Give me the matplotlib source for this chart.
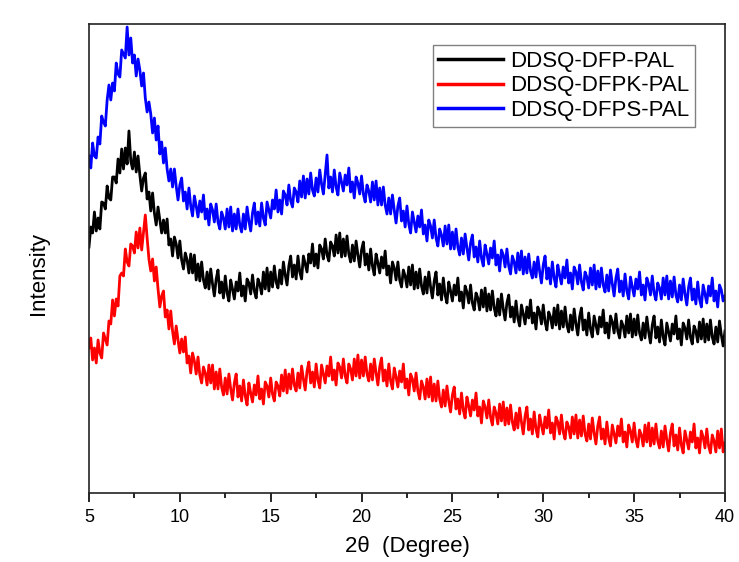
import numpy as np
import matplotlib
matplotlib.use("Agg")
import matplotlib.pyplot as plt
from matplotlib.ticker import MultipleLocator

# 2-theta scan grid (degrees), 0.1 deg step, 5 -> 40
two_theta = np.linspace(5, 40, 351)

# intensities (a.u.), one row per degree
ddsq_dfp_pal = [
    246, 266, 260, 281, 262, 275, 264, 291, 290, 284,
    307, 295, 293, 316, 316, 310, 334, 320, 344, 324,
    345, 329, 362, 332, 324, 341, 321, 337, 318, 302,
    315, 320, 294, 301, 282, 300, 280, 268, 286, 273,
    260, 273, 260, 274, 248, 254, 237, 256, 249, 235,
    252, 233, 224, 240, 233, 220, 239, 220, 238, 213,
    229, 212, 231, 213, 205, 221, 204, 224, 209, 197,
    214, 223, 200, 211, 195, 217, 200, 192, 213, 204,
    194, 211, 202, 220, 197, 207, 192, 214, 210, 199,
    218, 202, 195, 214, 209, 199, 221, 204, 225, 202,
    221, 206, 227, 211, 205, 223, 209, 231, 218, 208,
    227, 237, 216, 228, 214, 237, 221, 214, 237, 229,
    221, 239, 230, 249, 227, 239, 225, 248, 244, 234,
    254, 238, 232, 251, 247, 237, 258, 240, 260, 236,
    254, 237, 257, 239, 231, 248, 232, 252, 238, 226,
    243, 251, 228, 239, 223, 244, 227, 218, 239, 230,
    220, 236, 225, 242, 218, 227, 210, 231, 225, 213,
    231, 213, 206, 223, 217, 206, 226, 208, 228, 204,
    221, 205, 224, 207, 199, 216, 200, 221, 206, 195,
    212, 221, 198, 209, 193, 215, 198, 190, 211, 202,
    192, 208, 198, 215, 192, 201, 185, 207, 201, 190,
    208, 190, 183, 200, 195, 183, 203, 186, 205, 182,
    199, 183, 202, 185, 177, 194, 178, 199, 184, 173,
    190, 198, 176, 186, 171, 192, 175, 167, 188, 179,
    169, 186, 175, 193, 170, 180, 164, 186, 181, 169,
    188, 171, 163, 181, 176, 165, 185, 168, 188, 164,
    182, 166, 186, 168, 161, 178, 163, 184, 169, 158,
    176, 185, 163, 173, 158, 180, 164, 156, 177, 168,
    159, 176, 166, 183, 160, 170, 155, 177, 171, 160,
    179, 162, 155, 172, 167, 156, 177, 160, 179, 156,
    174, 158, 178, 160, 153, 170, 155, 176, 161, 150,
    168, 177, 155, 166, 151, 173, 156, 148, 170, 161,
    152, 169, 159, 177, 154, 164, 148, 170, 165, 154,
    173, 156, 149, 167, 162, 151, 171, 154, 174, 151,
    169, 153, 173, 156, 149, 166, 151, 172, 158, 147,
    162,
]

ddsq_dfpk_pal = [
    145, 155, 133, 145, 130, 153, 140, 135, 160, 154,
    148, 172, 169, 193, 177, 194, 187, 217, 220, 217,
    244, 231, 227, 249, 247, 240, 261, 245, 265, 243,
    261, 278, 255, 234, 222, 234, 212, 226, 204, 186,
    197, 202, 176, 183, 164, 182, 162, 149, 167, 153,
    140, 154, 141, 156, 130, 137, 120, 140, 132, 119,
    136, 118, 110, 126, 120, 108, 128, 110, 128, 104,
    121, 104, 124, 106, 98, 115, 99, 119, 104, 93,
    110, 119, 96, 107, 92, 113, 97, 88, 110, 100,
    91, 108, 98, 117, 94, 104, 89, 111, 107, 96,
    115, 99, 92, 111, 107, 97, 118, 102, 123, 100,
    119, 104, 124, 108, 102, 120, 105, 127, 114, 103,
    122, 131, 110, 121, 106, 129, 113, 105, 128, 119,
    110, 127, 117, 136, 113, 123, 108, 130, 126, 115,
    134, 117, 110, 129, 124, 113, 134, 117, 138, 115,
    133, 117, 136, 119, 112, 129, 113, 134, 120, 108,
    126, 135, 112, 123, 107, 129, 112, 104, 125, 116,
    106, 122, 111, 129, 105, 114, 98, 119, 114, 102,
    120, 102, 94, 112, 106, 94, 114, 96, 116, 92,
    109, 92, 112, 94, 86, 103, 87, 107, 92, 81,
    98, 106, 84, 94, 79, 100, 83, 75, 96, 87,
    77, 93, 83, 100, 77, 86, 70, 92, 86, 75,
    93, 76, 68, 86, 80, 69, 89, 72, 91, 68,
    85, 69, 88, 71, 63, 80, 65, 85, 71, 59,
    77, 86, 63, 74, 59, 81, 64, 56, 78, 68,
    59, 76, 65, 83, 60, 70, 54, 76, 71, 59,
    78, 61, 54, 71, 66, 55, 76, 59, 78, 55,
    73, 57, 77, 59, 52, 69, 54, 75, 60, 49,
    67, 76, 54, 64, 49, 71, 55, 47, 68, 59,
    50, 67, 57, 74, 51, 61, 46, 68, 62, 51,
    70, 53, 46, 63, 58, 47, 68, 51, 70, 47,
    65, 49, 69, 52, 45, 62, 46, 67, 53, 42,
    60, 69, 47, 58, 43, 65, 48, 40, 62, 53,
    44, 61, 51, 69, 45, 55, 40, 62, 56, 45,
    64, 47, 40, 58, 52, 41, 62, 45, 64, 41,
    50,
]

ddsq_dfps_pal = [
    337, 325, 350, 337, 335, 356, 349, 377, 371, 367,
    393, 408, 393, 410, 402, 430, 419, 416, 443, 439,
    435, 466, 438, 455, 430, 438, 417, 434, 423, 407,
    420, 395, 381, 391, 379, 360, 375, 353, 367, 339,
    351, 330, 345, 324, 312, 324, 306, 324, 307, 293,
    308, 315, 292, 301, 284, 305, 287, 277, 297, 287,
    276, 292, 281, 298, 274, 284, 268, 289, 283, 271,
    289, 271, 264, 281, 275, 264, 284, 266, 286, 262,
    279, 264, 284, 268, 261, 279, 264, 286, 272, 262,
    280, 290, 269, 281, 267, 290, 275, 268, 291, 283,
    275, 293, 284, 303, 281, 293, 279, 302, 298, 288,
    308, 292, 286, 305, 301, 291, 312, 296, 317, 295,
    314, 299, 320, 303, 297, 315, 301, 323, 309, 299,
    318, 338, 305, 316, 301, 323, 306, 298, 320, 311,
    302, 318, 308, 325, 301, 311, 295, 316, 310, 299,
    317, 299, 291, 308, 302, 291, 311, 293, 312, 288,
    305, 288, 306, 288, 279, 295, 279, 298, 283, 270,
    287, 295, 272, 282, 266, 287, 269, 260, 281, 271,
    261, 277, 266, 283, 259, 268, 252, 273, 267, 255,
    273, 255, 247, 264, 258, 247, 267, 249, 268, 244,
    261, 244, 264, 246, 238, 255, 239, 259, 245, 233,
    250, 258, 236, 246, 231, 252, 235, 227, 248, 239,
    229, 245, 235, 252, 228, 238, 222, 243, 238, 226,
    244, 227, 219, 237, 231, 220, 240, 223, 242, 219,
    236, 220, 239, 222, 215, 231, 216, 236, 222, 210,
    228, 237, 214, 225, 209, 231, 215, 206, 228, 218,
    209, 226, 215, 233, 210, 220, 204, 226, 221, 209,
    228, 211, 203, 221, 216, 205, 225, 208, 228, 204,
    222, 206, 225, 208, 201, 218, 202, 223, 209, 197,
    215, 224, 201, 212, 197, 219, 202, 194, 216, 206,
    197, 214, 204, 221, 198, 208, 193, 215, 209, 198,
    217, 200, 193, 210, 205, 194, 215, 198, 217, 194,
    212, 196, 216, 198, 191, 208, 193, 214, 199, 188,
    206, 215, 193, 204, 189, 211, 194, 186, 208, 199,
    190, 207, 197, 215, 192, 202, 186, 208, 203, 192,
    197,
]

plt.rcParams['font.family'] = ['Liberation Sans', 'DejaVu Sans']

fig = plt.figure(figsize=(7.39, 5.62), dpi=100)
ax = fig.add_axes([0.1204, 0.1228, 0.8606, 0.8345])

ax.plot(two_theta, ddsq_dfp_pal, color='black', lw=2.0, label='DDSQ-DFP-PAL')
ax.plot(two_theta, ddsq_dfpk_pal, color='red', lw=2.0, label='DDSQ-DFPK-PAL')
ax.plot(two_theta, ddsq_dfps_pal, color='blue', lw=2.0, label='DDSQ-DFPS-PAL')

ax.set_xlim(5, 40)
ax.set_ylim(0, 469)
ax.xaxis.set_major_locator(MultipleLocator(5))
ax.xaxis.set_minor_locator(MultipleLocator(2.5))
ax.tick_params(axis='x', which='major', direction='out', length=6.5, width=1.2,
               labelsize=13, pad=5)
ax.tick_params(axis='x', which='minor', direction='out', length=3.3, width=1.2)
ax.set_yticks([])
for sp in ax.spines.values():
    sp.set_linewidth(1.2)
    sp.set_color('#222222')

ax.set_xlabel('2θ  (Degree)', fontsize=16)
ax.xaxis.set_label_coords(0.5, -0.092)
ax.set_ylabel('Intensity', fontsize=16)
ax.yaxis.set_label_coords(-0.063, 0.469)

leg = ax.legend(loc='upper right', bbox_to_anchor=(0.953, 0.955), borderaxespad=0,
                fontsize=16, handlelength=2.9, handletextpad=0.35, borderpad=0.25,
                labelspacing=0.17, fancybox=False, edgecolor='#808080',
                framealpha=1)
leg.get_frame().set_linewidth(1.0)
for line in leg.get_lines():
    line.set_linewidth(2.5)

fig.savefig('out.png', dpi=100)
